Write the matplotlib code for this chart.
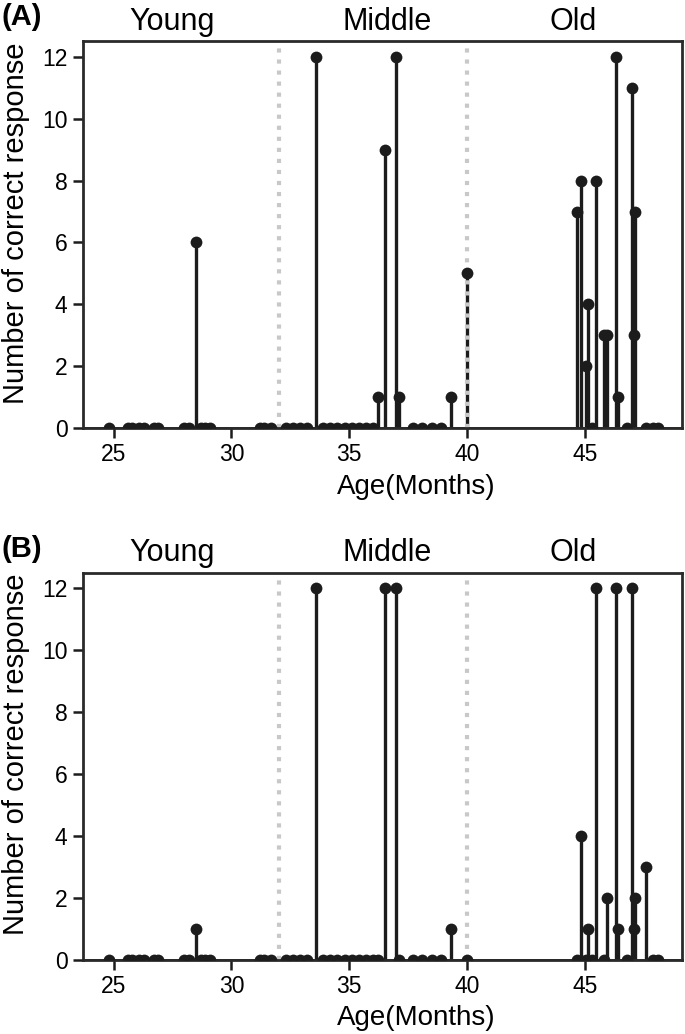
import matplotlib
matplotlib.use("Agg")
import matplotlib.pyplot as plt
import matplotlib.transforms as mtransforms

plt.rcParams["font.family"] = ["Liberation Sans", "DejaVu Sans"]

# ages of the animals (months), shared by both panels
ages = [24.8, 25.6, 25.8, 26.1, 26.3, 26.7, 26.9, 28.0, 28.2, 28.5, 28.7, 28.9, 29.1,
        31.2, 31.4, 31.7,
        32.3, 32.6, 32.9, 33.2, 33.6, 33.9, 34.2, 34.5, 34.8, 35.1, 35.4, 35.7, 36.0,
        36.2, 36.5, 37.0, 37.1, 37.7, 38.1, 38.5, 38.9, 39.3, 40.0,
        44.66, 44.83, 45.04, 45.11, 45.3, 45.45, 45.8, 45.92, 46.3, 46.4, 46.8,
        47.0, 47.07, 47.14, 47.6, 47.9, 48.1]

scores_a = [0, 0, 0, 0, 0, 0, 0, 0, 0, 6, 0, 0, 0,
            0, 0, 0,
            0, 0, 0, 0, 12, 0, 0, 0, 0, 0, 0, 0, 0,
            1, 9, 12, 1, 0, 0, 0, 0, 1, 5,
            7, 8, 2, 4, 0, 8, 3, 3, 12, 1, 0,
            11, 3, 7, 0, 0, 0]

scores_b = [0, 0, 0, 0, 0, 0, 0, 0, 0, 1, 0, 0, 0,
            0, 0, 0,
            0, 0, 0, 0, 12, 0, 0, 0, 0, 0, 0, 0, 0,
            0, 12, 12, 0, 0, 0, 0, 0, 1, 0,
            0, 4, 0, 1, 0, 12, 0, 2, 12, 1, 0,
            12, 1, 2, 3, 0, 0]

group_names = ["Young", "Middle", "Old"]
group_label_x = [27.5, 36.6, 44.5]
group_bounds = [32, 40]

ink = "#1c1c1c"


def draw_panel(ax, scores):
    ax.vlines(ages, 0, scores, color=ink, linewidth=2.4, zorder=2)
    ax.axhline(0, color=ink, linewidth=2, zorder=2)

    # nonzero scores: full dots; zero scores sit on the axis, only the top half shows
    x_hit = [a for a, s in zip(ages, scores) if s > 0]
    y_hit = [s for s in scores if s > 0]
    x_zero = [a for a, s in zip(ages, scores) if s == 0]
    ax.plot(x_hit, y_hit, "o", color=ink, markersize=8.5, markeredgewidth=0, zorder=3)
    ax.plot(x_zero, [0] * len(x_zero), "o", color=ink, markersize=8.5, markeredgewidth=0,
            fillstyle="top", markerfacecoloralt="none", zorder=3)

    for b in group_bounds:
        ax.axvline(b, color="#c8c8c8", linestyle=":", linewidth=3, zorder=2.5)

    ax.set_xlim(23.7, 49.1)
    ax.set_ylim(0, 12.5)
    ax.set_xticks([25, 30, 35, 40, 45])
    ax.set_yticks([0, 2, 4, 6, 8, 10, 12])
    ax.tick_params(direction="out", length=7.5, width=1.8, pad=3.5, labelsize=16.5, color=ink)
    for s in ax.spines.values():
        s.set_linewidth(2)
        s.set_color("#2a2a2a")

    ax.set_xlabel("Age(Months)", fontsize=20)
    ax.xaxis.set_label_coords(0.557, -0.118)
    ax.set_ylabel("Number of correct response", fontsize=21)
    ax.yaxis.set_label_coords(-0.088, 0.53)

    trans = mtransforms.blended_transform_factory(ax.transData, ax.transAxes)
    for name, gx in zip(group_names, group_label_x):
        ax.text(gx, 1.012, name, transform=trans, ha="center", va="bottom", fontsize=22)


fig = plt.figure(figsize=(6.85, 10.34), dpi=100)
ax_a = fig.add_axes([0.121, 0.586, 0.874, 0.374])
ax_b = fig.add_axes([0.121, 0.072, 0.874, 0.374])

draw_panel(ax_a, scores_a)
draw_panel(ax_b, scores_b)

fig.text(0.002, 0.997, "(A)", ha="left", va="top", fontsize=21, fontweight="bold")
fig.text(0.002, 0.483, "(B)", ha="left", va="top", fontsize=21, fontweight="bold")

fig.savefig("out.png", dpi=100)
